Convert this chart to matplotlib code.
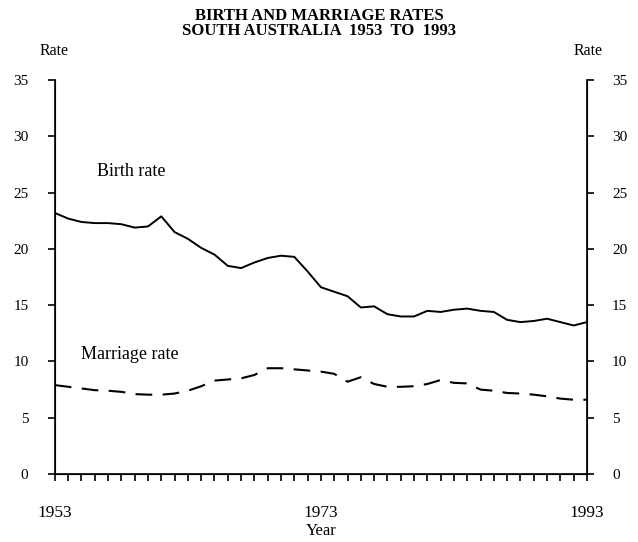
import matplotlib
matplotlib.use('Agg')
from matplotlib import pyplot as plt

years = list(range(1953, 1994))

birth_rate = [
    23.2, 22.7, 22.4, 22.3, 22.3, 22.2, 21.9, 22.0, 22.9, 21.5,
    20.9, 20.1, 19.5, 18.5, 18.3, 18.8, 19.2, 19.4, 19.3, 18.0,
    16.6, 16.2, 15.8, 14.8, 14.9, 14.2, 14.0, 14.0, 14.5, 14.4,
    14.6, 14.7, 14.5, 14.4, 13.7, 13.5, 13.6, 13.8, 13.5, 13.2,
    13.5,
]

marriage_rate = [
    7.9, 7.75, 7.6, 7.45, 7.4, 7.3, 7.1, 7.05, 7.05, 7.15,
    7.4, 7.8, 8.3, 8.4, 8.5, 8.8, 9.4, 9.4, 9.3, 9.2,
    9.1, 8.9, 8.2, 8.6, 8.0, 7.75, 7.75, 7.8, 8.0, 8.35,
    8.1, 8.05, 7.5, 7.4, 7.2, 7.15, 7.05, 6.9, 6.7, 6.6,
    6.6,
]

y_ticks = [0, 5, 10, 15, 20, 25, 30, 35]
x_labels = [1953, 1973, 1993]

plt.rcParams['font.family'] = ['Liberation Serif', 'DejaVu Serif']

fig = plt.figure(figsize=(6.38, 5.42), dpi=100)
ax = fig.add_axes([0.086, 0.1255, 0.834, 0.7265])

ax.plot(years, birth_rate, color='black', lw=1.4)
ax.plot(years, marriage_rate, color='black', lw=1.5, dashes=(8, 5))

ax.set_xlim(1953, 1993)
ax.set_ylim(0, 35)
ax.set_yticks(y_ticks)
ax.set_xticks(x_labels)
ax.set_xticks(years, minor=True)
ax.spines['top'].set_visible(False)
for s in ['left', 'right', 'bottom']:
    ax.spines[s].set_linewidth(1.2)

ax.tick_params(axis='y', direction='out', length=5, width=1.2, pad=14, labelsize=11)
ax.tick_params(axis='x', which='both', direction='out', length=5, width=1.2, pad=17, labelsize=12.5)

ax2 = ax.twinx()
ax2.set_ylim(0, 35)
ax2.set_yticks(y_ticks)
ax2.spines['top'].set_visible(False)
ax2.tick_params(axis='y', direction='out', length=5, width=1.2, pad=13, labelsize=11)

ax.set_xlabel('Year', fontsize=12, labelpad=2)

fig.text(0.5, 0.971, 'BIRTH AND MARRIAGE RATES', ha='center', va='center',
         fontsize=12, fontweight='bold')
fig.text(0.5, 0.943, 'SOUTH AUSTRALIA  1953  TO  1993', ha='center', va='center',
         fontsize=12, fontweight='bold')
fig.text(0.085, 0.905, 'Rate', ha='center', va='center', fontsize=11.5)
fig.text(0.922, 0.905, 'Rate', ha='center', va='center', fontsize=11.5)

ax.text(1956.2, 26.9, 'Birth rate', fontsize=13, va='center')
ax.text(1955.0, 10.65, 'Marriage rate', fontsize=13, va='center')

fig.savefig('out.png', dpi=100)
